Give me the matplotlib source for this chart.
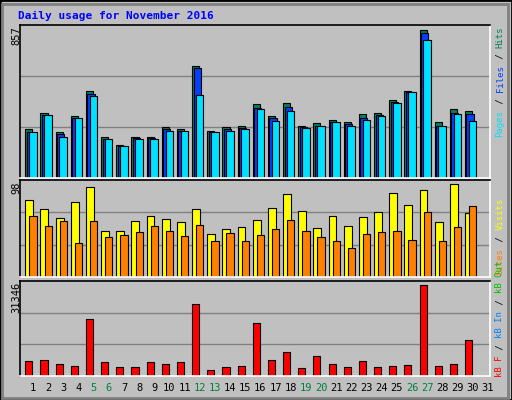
import matplotlib
matplotlib.use("Agg")
import matplotlib.pyplot as plt
from matplotlib.patches import Rectangle

days = list(range(1, 32))
hits  = [281,374,264,357,502,235,194,235,235,293,281,648,275,293,299,427,357,432,304,316,334,322,368,374,450,502,857,322,397,386,0]
files = [264,363,252,345,485,223,188,229,229,281,275,636,264,281,287,403,345,409,293,304,322,310,345,363,438,496,840,304,374,368,0]
pages = [264,363,240,345,473,223,188,223,223,275,270,479,264,275,281,397,328,386,287,299,322,304,334,357,432,496,799,304,368,328,0]
visits = [81,72,62,79,95,48,48,59,64,61,58,72,45,51,53,60,73,88,70,52,64,54,63,69,89,76,92,58,98,67,0]
sites  = [64,54,59,36,59,42,44,47,54,49,43,55,38,46,38,44,51,60,49,42,38,31,45,47,48,39,69,38,53,75,0]
kbytes = [5262,5606,4233,3546,19677,4919,3203,3203,4919,4233,4919,24825,2174,3203,3546,18304,5606,8351,2860,6978,4233,3203,5262,3203,3546,3890,31346,3546,4233,12470,0]
weekend = [5,6,12,13,19,20,26,27]

W, H = 512, 400
fig = plt.figure(figsize=(W/100, H/100), dpi=100)
fig.patch.set_facecolor("#C0C0C0")
MONO = "DejaVu Sans Mono"

fig.add_artist(Rectangle((0, 0), 1, 1, transform=fig.transFigure, fill=False, ec="black", lw=2))
fig.add_artist(Rectangle((2/W, 2/H), 1-6/W, 1-6/H, transform=fig.transFigure, fill=False, ec="#808080", lw=2))

def ax_px(x0, y0, x1, y1):
    return fig.add_axes([x0/W, 1-y1/H, (x1-x0)/W, (y1-y0)/H])

def setup(ax, top):
    ax.set_facecolor("#C0C0C0")
    ax.set_xlim(0, 31)
    ax.set_ylim(0, top)
    ax.set_xticks([]); ax.set_yticks([])
    for s in ("left", "top"):
        ax.spines[s].set_color("black")
    for s in ("right", "bottom"):
        ax.spines[s].set_color("white")
    for sp in ax.spines.values():
        sp.set_linewidth(1.2)
    for f in (1/3, 2/3):
        ax.axhline(top*f, color="#808080", lw=1, zorder=0)

x = [d-1 for d in days]
ax1 = ax_px(20, 25, 490, 178)
top1 = 857*152/147
setup(ax1, top1)
ax1.bar([i+0.35 for i in x], hits, width=0.47, align="edge", color="#00805C", ec="black", lw=0.8)
ax1.bar([i+0.45 for i in x], files, width=0.47, align="edge", color="#0040FF", ec="black", lw=0.8)
ax1.bar([i+0.6 for i in x], pages, width=0.5, align="edge", color="#00E0FF", ec="black", lw=0.8)

ax2 = ax_px(20, 180, 490, 277)
top2 = 98*96/92
setup(ax2, top2)
ax2.bar([i+0.35 for i in x], visits, width=0.52, align="edge", color="#FFFF00", ec="black", lw=0.8)
ax2.bar([i+0.62 for i in x], sites, width=0.48, align="edge", color="#FF8000", ec="black", lw=0.8)

ax3 = ax_px(20, 281, 490, 376)
top3 = 31346*95/91.3
setup(ax3, top3)
ax3.bar([i+0.35 for i in x], kbytes, width=0.47, align="edge", color="#FF0000", ec="black", lw=0.8)

for d in days:
    px = 20 + (d-1)*470/31 + 13
    fig.text(px/W, 1-388/H, str(d), ha="center", va="center", family=MONO, fontsize=7.5,
             color="#008040" if d in weekend else "black")

fig.text(16/W, 1-26/H, "857", rotation=90, ha="center", va="top", family=MONO, fontsize=7.5)
fig.text(16/W, 1-181/H, "98", rotation=90, ha="center", va="top", family=MONO, fontsize=7.5)
fig.text(16/W, 1-282/H, "31346", rotation=90, ha="center", va="top", family=MONO, fontsize=7.5)

fig.text(18/W, 1-16/H, "Daily usage for November 2016", ha="left", va="center",
         family=MONO, fontsize=8, fontweight="bold", color="#0000FF")

FS = 6.5
CH = 0.602*FS*100/72 + 0.15
def vlabel(ybottom, segs):
    y = ybottom
    for s, c in segs:
        fig.text(500/W, 1-y/H, s, rotation=90, ha="center", va="bottom",
                 family=MONO, fontsize=FS, color=c)
        y -= len(s)*CH

vlabel(137, [("Pages", "#00E0FF"), (" / ", "black"), ("Files", "#0040FF"), (" / ", "black"), ("Hits", "#00805C")])
vlabel(275, [("Sites", "#FF8000"), (" / ", "black"), ("Visits", "#FFFF00")])
vlabel(377, [("kB F", "#FF0000"), (" / ", "black"), ("kB In", "#0080FF"), (" / ", "black"), ("kB Out", "#00C000")])

fig.savefig("out.png", dpi=100, facecolor=fig.get_facecolor())
